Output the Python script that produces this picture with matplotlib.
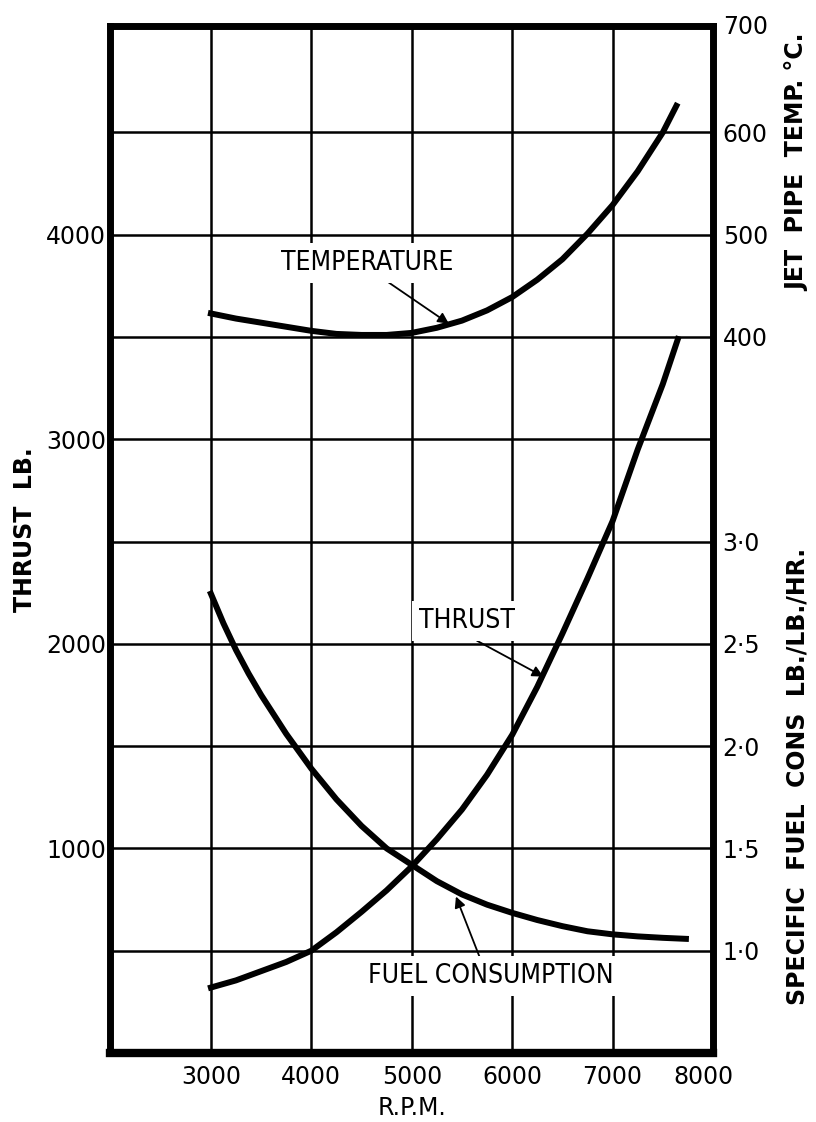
import numpy as np
import matplotlib
matplotlib.use('Agg')
import matplotlib.pyplot as plt
from matplotlib.transforms import ScaledTranslation

# thrust curve (lb)
thrust_rpm = [3000, 3250, 3500, 3750, 4000, 4250, 4500, 4750, 5000, 5250,
              5500, 5750, 6000, 6250, 6500, 6750, 7000, 7250, 7500, 7650]
thrust = [320, 355, 400, 445, 500, 590, 690, 795, 912, 1045,
          1190, 1360, 1555, 1790, 2050, 2320, 2600, 2950, 3270, 3490]

# jet pipe temperature (deg C)
temp_rpm = [3000, 3250, 3500, 3750, 4000, 4250, 4500, 4750, 5000, 5250,
            5500, 5750, 6000, 6250, 6500, 6750, 7000, 7250, 7500, 7635]
temp = [423, 418, 414, 410, 406, 403, 402, 402, 404, 409,
        416, 426, 439, 456, 476, 501, 529, 562, 600, 626]

# specific fuel consumption (lb/lb/hr)
fuel_rpm = [3000, 3125, 3250, 3375, 3500, 3750, 4000, 4250, 4500, 4750, 5000, 5250,
            5500, 5750, 6000, 6250, 6500, 6750, 7000, 7250, 7500, 7730]
sfc = [2.745, 2.60, 2.47, 2.355, 2.25, 2.06, 1.89, 1.74, 1.61, 1.50, 1.42, 1.34,
       1.275, 1.225, 1.185, 1.15, 1.12, 1.095, 1.08, 1.07, 1.063, 1.058]

x_ticks = [3000, 4000, 5000, 6000, 7000, 8000]
thrust_ticks = [1000, 2000, 3000, 4000]
thrust_grid = [500, 1000, 1500, 2000, 2500, 3000, 3500, 4000, 4500]
temp_ticks = [400, 500, 600, 700]
sfc_ticks = [1.0, 1.5, 2.0, 2.5, 3.0]

plt.rcParams['font.family'] = ['DejaVu Sans']

fig = plt.figure(figsize=(8.16, 11.22), dpi=100)
ax = fig.add_axes([0.1354, 0.0615, 0.7384, 0.9153])

ax.set_xlim(2000, 8000)
ax.set_ylim(0, 5020)

# grid
for v in x_ticks[:-1]:
    ax.axvline(v, color='black', lw=1.8, zorder=1)
for v in thrust_grid:
    ax.axhline(v, color='black', lw=1.8, zorder=1)

curve = dict(color='black', lw=4.3, zorder=3, solid_joinstyle='round')
ax.plot(thrust_rpm, thrust, **curve)

ax.set_xticks(x_ticks)
ax.set_xticklabels([str(v) for v in x_ticks])
ax.set_yticks(thrust_ticks)
ax.set_yticklabels([str(v) for v in thrust_ticks])
ax.tick_params(axis='x', length=0, pad=9, labelsize=17)
ax.tick_params(axis='y', length=0, pad=3, labelsize=17)
# last x label sits a little left in the original
lab = ax.get_xticklabels()[-1]
lab.set_transform(lab.get_transform() + ScaledTranslation(-10 / 100, 0, fig.dpi_scale_trans))
for s in ax.spines.values():
    s.set_linewidth(5)
ax.spines['bottom'].set_linewidth(6)

ax.set_xlabel('R.P.M.', fontsize=17, labelpad=5)
ax.set_ylabel('THRUST  LB.', fontsize=17, fontweight='bold')
ax.yaxis.set_label_coords(-0.122, 0.51)

# temperature on its own right-hand scale (400 C at 3500 lb, 100 C per 500 lb)
ax_t = ax.twinx()
ax_t.set_ylim(400 - 3500 / 5, 400 + (5020 - 3500) / 5)
ax_t.plot(temp_rpm, temp, **curve)
ax_t.set_yticks(temp_ticks)
ax_t.set_yticklabels([str(v) for v in temp_ticks])
ax_t.tick_params(axis='y', length=0, pad=7, labelsize=17)
top = ax_t.get_yticklabels()[-1]
top.set_transform(top.get_transform() + ScaledTranslation(0, 6 / 100, fig.dpi_scale_trans))
for s in ax_t.spines.values():
    s.set_visible(False)

# fuel consumption on second right-hand scale (1.0 at 500 lb, 0.5 per 500 lb)
ax_f = ax.twinx()
ax_f.set_ylim(1.0 - 500 / 1000, 1.0 + (5020 - 500) / 1000)
ax_f.plot(fuel_rpm, sfc, **curve)
ax_f.set_yticks(sfc_ticks)
ax_f.set_yticklabels([f'{v:.1f}'.replace('.', '\u00b7') for v in sfc_ticks])
ax_f.tick_params(axis='y', length=0, pad=7, labelsize=17)
for s in ax_f.spines.values():
    s.set_visible(False)

fig.text(0.977, 0.855, 'JET  PIPE  TEMP. \u00b0C.', rotation=90, ha='center',
         va='center', fontsize=17, fontweight='bold')
fig.text(0.977, 0.308, 'SPECIFIC  FUEL  CONS  LB./LB./HR.', rotation=90,
         ha='center', va='center', fontsize=17, fontweight='bold')

# curve labels with arrows
box = dict(facecolor='white', edgecolor='none', pad=5)
arrow = dict(arrowstyle='-|>', color='black', lw=1.3, mutation_scale=16,
             shrinkA=0, shrinkB=0)
lbl = dict(fontsize=19, fontstretch='condensed', ha='center', va='center',
           bbox=box, zorder=5)

ax_f.text(4560, 3863, 'TEMPERATURE', transform=ax.transData, **lbl)
ax_f.annotate('', xy=(5370, 413), xycoords=ax_t.transData,
              xytext=(4700, 3790), textcoords=ax.transData, arrowprops=arrow)

ax_f.text(5545, 2113, 'THRUST', transform=ax.transData, **lbl)
ax_f.annotate('', xy=(6310, 1840), xycoords=ax.transData,
              xytext=(5650, 2015), textcoords=ax.transData, arrowprops=arrow)

ax_f.text(5785, 377, 'FUEL CONSUMPTION', transform=ax.transData, **lbl)
ax_f.annotate('', xy=(5440, 1.265), xycoords=ax_f.transData,
              xytext=(5675, 470), textcoords=ax.transData, arrowprops=arrow)

fig.savefig('out.png', dpi=100)
